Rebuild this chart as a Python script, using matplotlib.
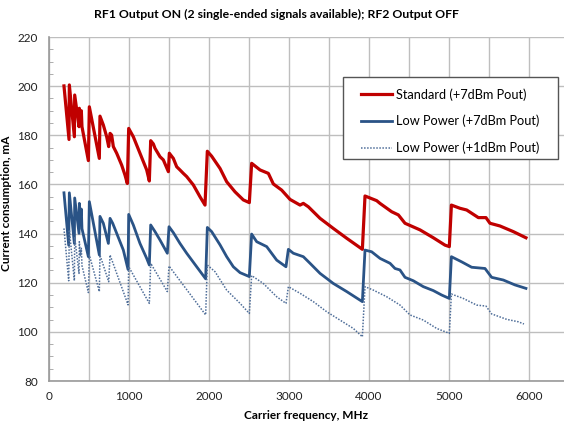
import matplotlib
matplotlib.use("Agg")
import matplotlib.pyplot as plt
from matplotlib.patches import Rectangle
from matplotlib.ticker import MultipleLocator

plt.rcParams['font.family'] = ['Lato', 'DejaVu Sans']

# Standard (+7dBm Pout)
std_freq = [187, 250, 254, 317, 321, 375, 379, 392, 404, 412, 492, 504, 629, 637, 679, 721,
            746, 763, 783, 804, 846, 908, 950, 979, 996, 1054, 1137, 1221, 1254, 1271, 1304,
            1325, 1387, 1429, 1492, 1504, 1554, 1596, 1637, 1679, 1721, 1804, 1887, 1950,
            1979, 2033, 2138, 2221, 2325, 2429, 2504, 2533, 2638, 2742, 2804, 2908, 3013,
            3138, 3179, 3242, 3388, 3554, 3721, 3917, 3950, 4096, 4137, 4283, 4367, 4450,
            4638, 4804, 4950, 5004, 5030, 5137, 5221, 5367, 5462, 5512, 5637, 5804, 5962]
std_ma = [200.1, 178.3, 200.5, 179.4, 196.4, 183.5, 191.0, 187.0, 190.0, 183.5, 169.7, 191.6,
          170.6, 187.8, 184.2, 179.4, 175.4, 180.8, 180.1, 175.4, 172.7, 167.9, 163.8, 160.4,
          182.8, 179.4, 172.7, 165.9, 161.4, 177.8, 176.5, 174.7, 171.3, 170.0, 165.2, 172.7,
          170.6, 167.2, 165.9, 164.5, 163.2, 159.8, 155.0, 151.6, 173.5, 171.5, 166.5, 161.1,
          157.0, 153.7, 152.6, 168.6, 165.9, 164.5, 160.2, 157.7, 153.9, 151.6, 152.3, 150.9,
          146.2, 142.1, 138.1, 133.6, 155.3, 153.4, 152.3, 148.9, 147.6, 144.2, 141.5, 138.3,
          135.3, 134.7, 151.6, 150.3, 149.6, 146.5, 146.5, 144.2, 143.1, 140.8, 138.3]

# Low Power (+7dBm Pout)
lp7_freq = [187, 246, 254, 317, 321, 375, 379, 392, 404, 412, 492, 504, 629, 637, 679, 742,
            763, 796, 846, 929, 988, 996, 1054, 1137, 1221, 1254, 1271, 1325, 1387, 1479,
            1500, 1554, 1637, 1721, 1846, 1958, 1979, 2033, 2138, 2221, 2304, 2388, 2504,
            2533, 2596, 2721, 2846, 2962, 2992, 3054, 3179, 3263, 3388, 3554, 3721, 3917,
            3950, 4033, 4138, 4263, 4325, 4387, 4450, 4554, 4679, 4804, 4908, 5004, 5030,
            5158, 5283, 5450, 5533, 5679, 5825, 5962]
lp7_ma = [156.6, 135.3, 156.6, 136.0, 154.5, 140.1, 152.3, 146.0, 150.0, 142.0, 130.6, 153.0,
          131.3, 147.0, 144.2, 136.0, 146.2, 144.2, 140.1, 133.3, 125.4, 147.8, 143.5, 136.0,
          129.9, 127.2, 143.5, 140.8, 137.4, 132.0, 142.8, 140.4, 136.0, 132.0, 126.5, 121.6,
          142.5, 140.8, 135.4, 130.6, 126.5, 124.1, 122.5, 139.8, 136.7, 134.7, 129.2, 126.5,
          133.6, 132.0, 130.6, 127.9, 123.8, 119.7, 116.4, 112.3, 133.3, 132.6, 129.9, 127.9,
          125.8, 125.2, 122.2, 120.8, 118.4, 116.8, 115.0, 113.6, 130.6, 128.5, 126.3, 125.8,
          122.2, 121.1, 119.1, 117.7]

# Low Power (+1dBm Pout)
lp1_freq = [187, 246, 254, 317, 321, 375, 379, 392, 404, 412, 492, 504, 629, 637, 746, 763,
            988, 996, 1254, 1271, 1479, 1500, 1958, 1979, 2075, 2221, 2388, 2504, 2533, 2679,
            2846, 2962, 2992, 3138, 3304, 3471, 3637, 3804, 3917, 3950, 4054, 4221, 4388,
            4512, 4679, 4846, 5004, 5030, 5179, 5346, 5462, 5533, 5721, 5867, 5937]
lp1_ma = [142.1, 120.8, 141.5, 120.8, 138.7, 123.8, 136.7, 131.0, 134.0, 127.0, 116.0, 131.3,
          116.4, 131.3, 120.4, 131.3, 111.0, 126.5, 111.6, 127.9, 116.4, 126.8, 106.9, 127.2,
          124.5, 117.0, 111.6, 107.5, 122.9, 119.7, 114.3, 111.6, 118.4, 115.7, 112.3, 108.2,
          104.8, 101.4, 98.0, 118.4, 117.0, 114.3, 110.9, 106.9, 104.8, 101.4, 99.4, 115.4,
          113.6, 110.9, 110.5, 107.3, 105.1, 104.1, 103.2]

fig = plt.figure(figsize=(5.64, 4.26), dpi=100)
ax = fig.add_axes([0.0869, 0.1056, 0.9131, 0.8075])

ax.plot(std_freq, std_ma, color='#C00000', lw=2.3, label='Standard (+7dBm Pout)', zorder=3)
ax.plot(lp7_freq, lp7_ma, color='#2A5386', lw=2.0, label='Low Power (+7dBm Pout)', zorder=3)
ax.plot(lp1_freq, lp1_ma, color='#4F6E99', lw=1.1, ls=(0, (1, 1)),
        label='Low Power (+1dBm Pout)', zorder=3)

ax.set_xlim(0, 6437.5)
ax.set_ylim(80, 220)
ax.xaxis.set_major_locator(MultipleLocator(1000))
ax.xaxis.set_minor_locator(MultipleLocator(500))
ax.yaxis.set_major_locator(MultipleLocator(20))
ax.yaxis.set_minor_locator(MultipleLocator(5))
ax.grid(True, which='major', color='#BEBEBE', lw=1.0, zorder=0)
ax.grid(True, which='minor', axis='x', color='#BEBEBE', lw=1.0, zorder=0)
ax.tick_params(axis='x', which='both', length=0, labelsize=8.5, pad=7, colors='#222222')
ax.tick_params(axis='y', which='major', length=0, labelsize=8.5, pad=8, colors='#222222')
ax.tick_params(axis='y', which='minor', length=3, direction='in', color='#A0A0A0')
for side in ['top', 'right']:
    ax.spines[side].set_visible(False)
for side in ['left', 'bottom']:
    ax.spines[side].set_color('#999999')
    ax.spines[side].set_linewidth(1.2)

ax.set_xlabel('Carrier frequency, MHz', fontsize=8.5, fontweight='bold', labelpad=6)
ax.set_ylabel('Current consumption, mA', fontsize=8.5, fontweight='bold')
ax.yaxis.set_label_coords(-0.072, 0.517)
fig.text(0.49, 0.965, 'RF1 Output ON (2 single-ended signals available); RF2 Output OFF',
         ha='center', va='center', fontsize=8.8, fontweight='bold')

# legend frame drawn separately (wider side padding than top/bottom)
ax.add_patch(Rectangle((0.571, 0.645), 0.417, 0.239, transform=ax.transAxes,
                       facecolor='white', edgecolor='#555555', lw=1.0, zorder=4))
leg = ax.legend(loc='upper left', bbox_to_anchor=(0.606, 0.851), fontsize=9.2,
                frameon=False, handlelength=2.4, handletextpad=0.3, labelspacing=1.1,
                borderpad=0, borderaxespad=0)
leg.set_zorder(5)

fig.savefig('out.png', dpi=100)
